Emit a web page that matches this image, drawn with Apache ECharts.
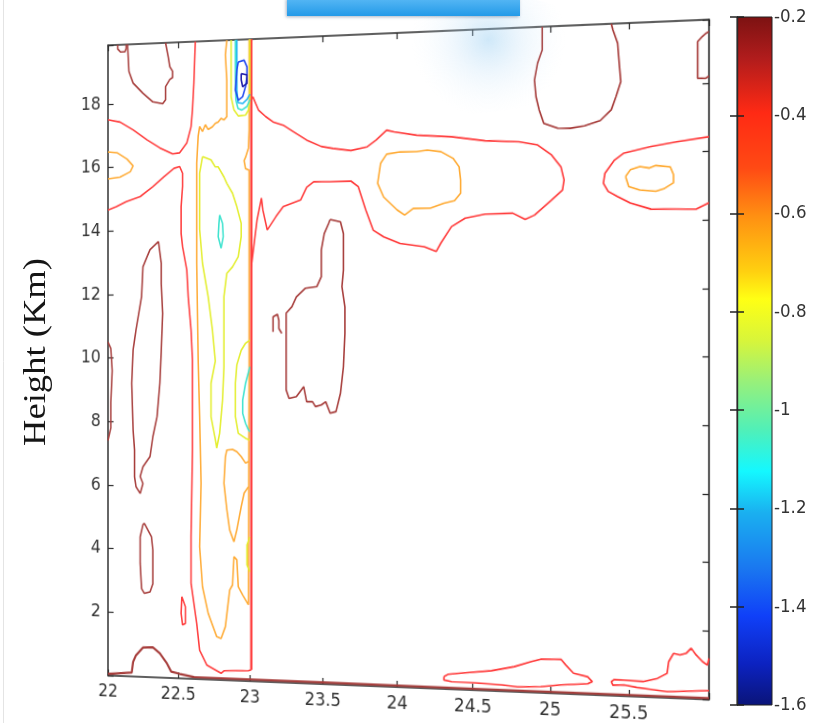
<!DOCTYPE html>
<html><head><meta charset="utf-8">
<script src="https://cdn.jsdelivr.net/npm/echarts@6/dist/echarts.min.js"></script>
<style>
html,body{margin:0;padding:0;background:#fff;overflow:hidden;}
#main{position:absolute;left:0;top:0;width:821px;height:723px;}
#over{position:absolute;left:0;top:0;width:821px;height:723px;pointer-events:none;}
</style></head><body>
<div id="main"></div><div id="over"></div>
<script>
// ---------- tick labels ----------
const xTicks = ['22','22.5','23','23.5','24','24.5','25','25.5'];
const yTicks = ['2','4','6','8','10','12','14','16','18'];
const colorbarTicks = ['-0.2','-0.4','-0.6','-0.8','-1','-1.2','-1.4','-1.6'];
const xRange = [22, 26];
const yRange = [0, 19.85];
const cbRange = [-1.6, -0.2];

// ---------- contour lines (x = longitude-like axis, y = height km) ----------
// level -0.2
const c02_cornerLoop = [[22.07,19.85],[22.07,19.72],[22.09,19.62],[22.12,19.62],[22.13,19.72],[22.13,19.85]];
const c02_topLeft = [[22.14,19.85],[22.15,19.0],[22.18,18.63],[22.25,18.30],[22.32,18.02],[22.39,17.95],[22.41,18.07],[22.41,18.48],[22.44,18.7],[22.46,18.76],[22.46,18.95],[22.44,19.1],[22.43,19.38],[22.41,19.85]];
const c02_leftEdge = [[22.0,10.5],[22.02,10.3],[22.03,9.6],[22.02,8.6],[22.02,7.8],[22.0,7.4]];
const c02_leftLoop = [[22.36,13.64],[22.38,12.96],[22.38,12.33],[22.39,11.39],[22.38,10.22],[22.37,9.21],[22.35,8.16],[22.32,7.53],[22.3,6.91],[22.25,6.59],[22.23,6.28],[22.25,6.06],[22.23,5.75],[22.2,5.96],[22.19,6.27],[22.19,7.11],[22.18,7.74],[22.17,9.2],[22.18,10.25],[22.2,10.88],[22.24,11.92],[22.25,12.86],[22.3,13.39],[22.36,13.64]];
const c02_smallLoop = [[22.26,4.82],[22.31,4.4],[22.32,3.98],[22.32,2.93],[22.3,2.67],[22.26,2.62],[22.24,2.77],[22.23,3.56],[22.23,4.39],[22.25,4.77],[22.26,4.82]];
const c02_bottom = [[22.0,0.05],[22.17,0.12],[22.18,0.46],[22.2,0.67],[22.25,0.92],[22.32,0.94],[22.37,0.76],[22.42,0.45],[22.45,0.2],[22.51,0.14],[22.61,0.06],[23.5,0.05],[24.5,0.04],[26,0.04]];
const c02_midBlob = [[23.55,14.23],[23.62,14.15],[23.64,13.79],[23.64,12.67],[23.63,12.17],[23.65,11.55],[23.65,10.74],[23.64,9.72],[23.62,8.91],[23.59,8.35],[23.55,8.3],[23.52,8.65],[23.49,8.55],[23.45,8.5],[23.43,8.65],[23.39,8.65],[23.37,9.11],[23.32,8.8],[23.27,8.75],[23.25,9.01],[23.25,11.37],[23.29,11.57],[23.32,11.87],[23.38,12.13],[23.46,12.18],[23.49,12.48],[23.49,13.3],[23.51,13.8],[23.54,14.11],[23.55,14.23]];
const c02_hook = [[23.16,10.8],[23.16,11.26],[23.19,11.34],[23.2,11.15],[23.2,10.9],[23.22,10.75]];
const c02_topRight = [[24.95,19.85],[24.95,19.16],[24.92,18.77],[24.9,18.27],[24.91,17.77],[24.93,17.38],[24.96,16.97],[25.05,16.81],[25.13,16.8],[25.22,16.86],[25.32,17.0],[25.39,17.31],[25.42,17.7],[25.45,18.13],[25.44,18.68],[25.43,19.27],[25.4,19.67],[25.39,19.85]];
const c02_cornerRight = [[26,18.2],[25.98,18.14],[25.93,18.15],[25.93,18.6],[25.93,19.22],[25.96,19.37],[25.98,19.45],[26,19.5]];
// level -0.4
const c04_upperLeft = [[22,17.5],[22.086,17.42],[22.18,17.16],[22.28,16.83],[22.37,16.57],[22.46,16.37],[22.51,16.4],[22.56,16.7],[22.59,17.2],[22.6,17.73],[22.61,18.57],[22.62,19.85]];
const c04_strip = [[22,14.66],[22.06,14.76],[22.13,14.91],[22.23,15.06],[22.32,15.36],[22.4,15.67],[22.47,15.92],[22.51,15.97],[22.53,15.76],[22.53,15.35],[22.52,14.72],[22.52,13.88],[22.53,13.47],[22.56,12.74],[22.57,11.9],[22.59,10.87],[22.6,9.93],[22.6,7.13],[22.59,4.43],[22.59,2.98],[22.63,1.73],[22.65,0.9],[22.7,0.45],[22.78,0.26],[22.8,0.21],[22.82,0.29],[22.99,0.32],[23.01,0.35]];
const c04_wall = [[23.01,0.35],[23.01,19.85]];
const c04_branch = [[23.02,18.07],[23.06,17.65],[23.11,17.44],[23.16,17.27],[23.23,17.16],[23.3,16.95],[23.39,16.68],[23.49,16.47],[23.57,16.4],[23.69,16.32],[23.8,16.42],[23.86,16.62],[23.93,16.91],[23.98,16.85],[24.13,16.73],[24.36,16.65],[24.58,16.5],[24.8,16.44],[24.92,16.33],[25.01,16.02],[25.07,15.66],[25.09,15.27],[25.08,14.97],[25.01,14.68],[24.9,14.24],[24.84,14.12],[24.76,14.31],[24.58,14.3],[24.45,14.19],[24.36,13.94],[24.29,13.45],[24.26,13.2],[24.18,13.35],[24.02,13.46],[23.91,13.67],[23.84,13.88],[23.79,14.5],[23.74,15.21],[23.69,15.39],[23.55,15.38],[23.44,15.4],[23.39,15.23],[23.35,14.85],[23.23,14.65],[23.18,14.35],[23.12,13.94],[23.09,14.56],[23.08,14.93],[23.05,14.26],[23.03,13.54],[23.01,12.81]];
const c04_tinyLoop = [[22.525,2.55],[22.55,2.24],[22.55,1.72],[22.53,1.67],[22.52,2.03],[22.525,2.55]];
const c04_right = [[26,16.43],[25.8,16.31],[25.64,16.19],[25.47,16.02],[25.41,15.82],[25.35,15.44],[25.34,15.14],[25.37,14.9],[25.43,14.74],[25.51,14.54],[25.64,14.35],[25.8,14.34],[25.92,14.32],[26,14.5]];
const c04_bottomLoop = [[24.31,0.37],[24.34,0.45],[24.45,0.51],[24.62,0.6],[24.77,0.75],[24.88,0.92],[24.94,1.0],[25.07,1.02],[25.1,0.86],[25.15,0.62],[25.24,0.53],[25.27,0.39],[25.24,0.32],[25.07,0.26],[24.94,0.18],[24.79,0.15],[24.69,0.19],[24.51,0.22],[24.36,0.23],[24.31,0.27],[24.31,0.37]];
const c04_bottomRight = [[26,1.2],[25.99,1.0],[25.96,1.1],[25.92,1.29],[25.89,1.48],[25.86,1.33],[25.82,1.27],[25.78,1.31],[25.75,1.06],[25.74,0.72],[25.68,0.56],[25.59,0.45],[25.47,0.47],[25.41,0.48],[25.39,0.41],[25.4,0.31],[25.47,0.33],[25.55,0.27],[25.64,0.23],[25.74,0.18],[26,0.26]];
// level -0.6
const c06_leftLoop = [[22,16.49],[22.064,16.46],[22.136,16.25],[22.18,16.03],[22.16,15.85],[22.086,15.69],[22,15.64]];
const c06_strip = [[22.84,19.85],[22.83,19.4],[22.84,18.6],[22.84,17.48],[22.82,17.38],[22.8,17.43],[22.78,17.32],[22.76,17.28],[22.74,17.18],[22.71,17.1],[22.69,17.25],[22.67,17.04],[22.65,17.2],[22.64,16.9],[22.63,16.06],[22.63,12.94],[22.64,9.93],[22.65,8.17],[22.66,6.1],[22.65,4.12],[22.67,2.88],[22.71,2.06],[22.77,1.34],[22.8,1.29],[22.83,1.66],[22.86,2.8],[22.88,2.96],[22.89,3.84],[22.91,3.74],[22.92,2.91],[22.95,2.66],[22.99,2.36],[22.995,9.8],[22.995,15.8],[22.97,15.85],[22.96,16.1],[22.97,16.2],[22.99,16.48],[22.995,17.04],[22.995,19.85]];
const c06_inner = [[22.99,6.79],[22.97,6.74],[22.94,6.94],[22.91,7.09],[22.88,7.16],[22.84,7.14],[22.83,6.93],[22.82,6.11],[22.84,5.3],[22.86,4.66],[22.89,4.3],[22.91,4.67],[22.94,5.39],[22.96,5.81],[22.99,6.01]];
const c06_mid = [[23.89,15.91],[23.93,16.18],[24.02,16.24],[24.13,16.23],[24.2,16.27],[24.29,16.21],[24.37,16.0],[24.41,15.74],[24.42,15.34],[24.42,14.94],[24.38,14.72],[24.31,14.65],[24.22,14.51],[24.11,14.52],[24.05,14.32],[24.0,14.48],[23.91,14.88],[23.87,15.3],[23.89,15.91]];
const c06_right = [[25.48,15.33],[25.51,15.52],[25.57,15.61],[25.63,15.56],[25.67,15.63],[25.76,15.58],[25.78,15.35],[25.78,15.11],[25.72,14.94],[25.67,14.87],[25.57,14.92],[25.5,15.03],[25.48,15.33]];
// level -0.8
const c08_strip = [[22.67,16.26],[22.65,15.75],[22.65,14.0],[22.67,12.94],[22.71,11.9],[22.74,10.86],[22.76,9.9],[22.73,9.21],[22.73,8.17],[22.76,7.47],[22.77,7.2],[22.79,7.66],[22.81,8.69],[22.82,9.72],[22.82,11.9],[22.84,12.62],[22.88,12.82],[22.92,13.13],[22.94,13.75],[22.94,14.16],[22.91,14.68],[22.88,15.1],[22.84,15.41],[22.82,15.61],[22.78,15.93],[22.76,15.93],[22.73,16.15],[22.67,16.26]];
const c08_ring = [[22.87,19.85],[22.87,18.09],[22.89,17.68],[22.92,17.49],[22.97,17.51],[22.99,17.66],[23.0,18.0],[23.0,19.85]];
const c08_edge = [[23.0,10.55],[22.97,10.45],[22.94,10.23],[22.91,9.78],[22.9,9.21],[22.9,8.18],[22.92,7.66],[22.97,7.51],[23.0,7.45]];
const c08_edgeLow = [[23.0,4.46],[22.98,4.21],[22.98,3.59],[23.0,3.38]];
// level -1.0
const c10_spot = [[22.79,14.43],[22.81,14.17],[22.815,13.76],[22.8,13.4],[22.79,13.35],[22.78,13.76],[22.785,14.17],[22.79,14.43]];
const c10_edge = [[23.0,9.72],[22.97,9.21],[22.95,8.69],[22.95,8.28],[22.97,7.97],[22.99,7.77],[23.0,7.71]];
const c10_ring = [[22.9,19.85],[22.9,18.6],[22.904,17.97],[22.918,17.72],[22.945,17.67],[22.979,17.77],[23.0,17.98]];
// level -1.2
const c12_ring = [[22.91,19.85],[22.91,18.29],[22.918,17.9],[22.95,17.87],[22.98,17.99],[23.0,18.15]];
// level -1.4
const c14_core = [[22.92,19.16],[22.96,19.21],[22.98,19.0],[22.98,18.7],[22.97,18.39],[22.95,18.08],[22.92,17.98],[22.9,18.29],[22.91,18.91],[22.92,19.16]];
// level -1.5
const c15_core = [[22.94,18.8],[22.98,18.75],[22.98,18.49],[22.95,18.39],[22.94,18.6],[22.94,18.8]];

const contours = [
  [-0.2, c02_cornerLoop],[-0.2, c02_topLeft],[-0.2, c02_leftEdge],[-0.2, c02_leftLoop],[-0.2, c02_smallLoop],
  [-0.2, c02_bottom],[-0.2, c02_midBlob],[-0.2, c02_hook],[-0.2, c02_topRight],[-0.2, c02_cornerRight],
  [-0.4, c04_upperLeft],[-0.4, c04_strip],[-0.4, c04_wall],[-0.4, c04_branch],[-0.4, c04_tinyLoop],
  [-0.4, c04_right],[-0.4, c04_bottomLoop],[-0.4, c04_bottomRight],
  [-0.6, c06_leftLoop],[-0.6, c06_strip],[-0.6, c06_inner],[-0.6, c06_mid],[-0.6, c06_right],
  [-0.8, c08_strip],[-0.8, c08_ring],[-0.8, c08_edge],[-0.8, c08_edgeLow],
  [-1.0, c10_spot],[-1.0, c10_edge],[-1.0, c10_ring],
  [-1.2, c12_ring],[-1.4, c14_core],[-1.5, c15_core]
];

// ---------- styles ----------
const levelColor = {'-0.2':'#a63c3a','-0.4':'#ff3d3d','-0.6':'#ffab35','-0.8':'#e3ee2e','-1':'#3fe3cf','-1.2':'#25b7f2','-1.4':'#2048f0','-1.5':'#1c1ca8'};
const tickFont = "'Liberation Sans Narrow','DejaVu Sans Condensed','Liberation Sans',sans-serif";
const axisCol = '#2b2b2b';
function lookup(list, v){ const t = list.find(s => Math.abs(parseFloat(s) - v) < 1e-6); return t === undefined ? '' : t; }

// ---------- main (contour) chart ----------
const main = echarts.init(document.getElementById('main'), null, {renderer:'canvas'});
const G = {left:108, top:44, width:601, height:632};
const axisCommon = {
  axisLine:{show:true, onZero:false, lineStyle:{color:axisCol, width:1.5}},
  axisTick:{show:true, inside:true, length:6, lineStyle:{color:axisCol, width:1.2}},
  splitLine:{show:false}
};
main.setOption({
  animation:false,
  backgroundColor:'#ffffff',
  grid:{left:G.left, top:G.top, width:G.width, height:G.height, show:false},
  xAxis:[
    Object.assign({type:'value', min:xRange[0], max:xRange[1], interval:0.5, position:'bottom',
      axisLabel:{show:true, margin:7, color:'#333', fontSize:18.5, fontFamily:tickFont, formatter:v=>lookup(xTicks,v)}}, axisCommon),
    Object.assign({type:'value', min:xRange[0], max:xRange[1], interval:0.5, position:'top', axisLabel:{show:false}}, axisCommon)
  ],
  yAxis:[
    Object.assign({type:'value', min:yRange[0], max:yRange[1], interval:2, position:'left',
      axisLabel:{show:true, margin:8, color:'#333', fontSize:18.5, fontFamily:tickFont, formatter:v=>lookup(yTicks,v)}}, axisCommon),
    Object.assign({type:'value', min:yRange[0], max:yRange[1], interval:2, position:'right', axisLabel:{show:false}}, axisCommon)
  ],
  series: contours.map(([lv, pts], i) => ({
    type:'line', name:'c'+i, data:pts, xAxisIndex:0, yAxisIndex:0,
    showSymbol:false, symbol:'none', silent:true, clip:true,
    lineStyle:{color:levelColor[String(lv)], width:(pts===c04_wall?2.4:(pts===c02_bottom?2.2:1.6))}
  }))
});

// perspective of the photographed slide: map the grid rectangle onto the observed quadrilateral
function solve(A,b){
  const n=b.length; const M=A.map((r,i)=>r.concat([b[i]]));
  for(let c=0;c<n;c++){
    let p=c; for(let r=c+1;r<n;r++) if(Math.abs(M[r][c])>Math.abs(M[p][c])) p=r;
    [M[c],M[p]]=[M[p],M[c]];
    for(let r=0;r<n;r++){ if(r===c) continue; const f=M[r][c]/M[c][c]; for(let k=c;k<=n;k++) M[r][k]-=f*M[c][k]; }
  }
  return M.map((r,i)=>r[n]/r[i]);
}
function homography(src,dst){
  const A=[],b=[];
  for(let i=0;i<4;i++){ const [x,y]=src[i],[u,v]=dst[i];
    A.push([x,y,1,0,0,0,-u*x,-u*y]); b.push(u);
    A.push([0,0,0,x,y,1,-v*x,-v*y]); b.push(v); }
  const h=solve(A,b); h.push(1); return h;
}
const srcQ=[[G.left,G.top],[G.left+G.width,G.top],[G.left+G.width,G.top+G.height],[G.left,G.top+G.height]];
const dstQ=[[108,45.3],[709,19.6],[709,699.5],[108,675.5]];
const h=homography(srcQ,dstQ);
const el=document.getElementById('main');
el.style.transformOrigin='0 0';
el.style.transform='matrix3d('+[h[0],h[3],0,h[6], h[1],h[4],0,h[7], 0,0,1,0, h[2],h[5],0,h[8]].join(',')+')';

// ---------- overlay: colorbar, axis title, slide decorations ----------
const over = echarts.init(document.getElementById('over'), null, {renderer:'canvas'});
const cbGradient = {type:'linear', x:0, y:0, x2:0, y2:1, colorStops:[
  {offset:0, color:'#7c1212'},{offset:0.06, color:'#b01c1c'},{offset:0.14, color:'#ff2a14'},
  {offset:0.22, color:'#ff4a14'},{offset:0.29, color:'#ff9012'},{offset:0.37, color:'#ffd010'},
  {offset:0.41, color:'#ffff14'},{offset:0.47, color:'#d8f53a'},{offset:0.53, color:'#98f07a'},
  {offset:0.6, color:'#50f0b8'},{offset:0.66, color:'#14f8ff'},{offset:0.72, color:'#1ab0f0'},
  {offset:0.8, color:'#1a78f0'},{offset:0.87, color:'#1040f8'},{offset:0.94, color:'#0c22c0'},
  {offset:1, color:'#0a1478'}]};
const cbAxis = {
  axisLine:{show:true, lineStyle:{color:axisCol, width:1.2}},
  axisTick:{show:true, inside:true, length:7, lineStyle:{color:'#222', width:1.5}},
  splitLine:{show:false}
};
over.setOption({
  animation:false,
  backgroundColor:'transparent',
  grid:{left:737, top:17, width:35, height:688, show:true, backgroundColor:cbGradient, borderColor:'#222', borderWidth:1},
  xAxis:{type:'value', min:0, max:1, show:false},
  yAxis:[
    Object.assign({type:'value', min:cbRange[0], max:cbRange[1], interval:0.2, position:'right',
      axisLabel:{show:true, margin:2, color:'#333', fontSize:18.5, fontFamily:tickFont, formatter:v=>lookup(colorbarTicks,v)}}, cbAxis),
    Object.assign({type:'value', min:cbRange[0], max:cbRange[1], interval:0.2, position:'left', axisLabel:{show:false}}, cbAxis)
  ],
  series:[{type:'line', data:[], yAxisIndex:0}],
  graphic:[
    {type:'line', shape:{x1:3.5,y1:0,x2:3.5,y2:723}, style:{stroke:'#e4e4e4', lineWidth:1}, silent:true},
    {type:'ellipse', shape:{cx:450, cy:52, rx:160, ry:62}, silent:true, z:1,
      style:{fill:{type:'radial', x:0.62, y:0.4, r:0.62, colorStops:[{offset:0, color:'rgba(140,200,240,0.42)'},{offset:0.45,color:'rgba(175,215,245,0.2)'},{offset:1, color:'rgba(225,240,252,0)'}]}}},
    {type:'rect', shape:{x:287, y:-2, width:233, height:18}, silent:true, z:5,
      style:{fill:{type:'linear', x:0,y:0,x2:0,y2:1, colorStops:[{offset:0,color:'#58b8f5'},{offset:1,color:'#239ae8'}]},
        shadowBlur:3, shadowColor:'rgba(0,40,90,0.35)', shadowOffsetX:-1, shadowOffsetY:1}},
    {type:'text', x:37, y:352, rotation:Math.PI/2, scaleX:1.18, silent:true,
      style:{text:'Height (Km)', font:'31px "Liberation Serif", "Times New Roman", serif', fill:'#151515', textAlign:'center', textVerticalAlign:'middle'}}
  ]
});
</script>
</body></html>
